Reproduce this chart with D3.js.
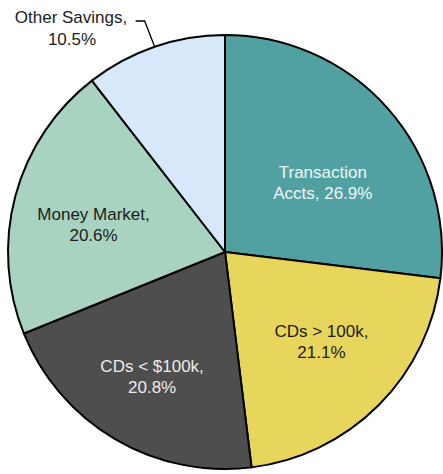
<!DOCTYPE html>
<html>
<head>
<meta charset="utf-8">
<script src="https://cdn.jsdelivr.net/npm/d3@7"></script>
<style>
  body { margin: 0; background: #fff; }
  svg text { font-family: "Liberation Sans", Arial, sans-serif; font-size: 17px; }
</style>
</head>
<body>
<div id="chart"></div>
<script>
// data
const categories = ["Transaction Accts", "CDs > 100k", "CDs < $100k", "Money Market", "Other Savings"];
const values = [26.9, 21.1, 20.8, 20.6, 10.5];
const labelLines = [
    ["Transaction", "Accts, 26.9%"],
    ["CDs > 100k,", "21.1%"],
    ["CDs < $100k,", "20.8%"],
    ["Money Market,", "20.6%"],
    ["Other Savings,", "10.5%"]
];

const colors = ["#52a1a2", "#e8d65c", "#4e4e4e", "#a7d3c0", "#d7e8fa"];
const textColors = ["#eef7f7", "#1c1c1c", "#ececec", "#1c1c1c", "#1c1c1c"];

const width = 443, height = 474;
const cx = 225, cy = 252, radius = 217;

const svg = d3.select("#chart")
    .append("svg")
    .attr("width", width)
    .attr("height", height);

const g = svg.append("g")
    .attr("transform", `translate(${cx},${cy})`);

const data = categories.map((c, i) => ({name: c, value: values[i], lines: labelLines[i], i: i}));

const pie = d3.pie()
    .value(d => d.value)
    .sort(null);

const arc = d3.arc().innerRadius(0).outerRadius(radius);
const labelArc = d3.arc().innerRadius(132).outerRadius(132);

const arcs = pie(data);

g.selectAll(".slice")
    .data(arcs)
    .enter()
    .append("path")
    .attr("class", "slice")
    .attr("d", arc)
    .attr("fill", d => colors[d.data.i])
    .attr("stroke", "#000")
    .attr("stroke-width", 2)
    .attr("stroke-linejoin", "round");

// small nudges for labels inside the slices
const nudge = [[-1, 18], [3, -4], [-6, 10], [-4, 6]];

arcs.slice(0, 4).forEach((d, k) => {
    const [x, y] = labelArc.centroid(d);
    const t = g.append("text")
        .attr("text-anchor", "middle")
        .attr("fill", textColors[d.data.i])
        .attr("transform", `translate(${x + nudge[k][0]},${y + nudge[k][1] - 4})`);
    d.data.lines.forEach((line, j) => {
        t.append("tspan").attr("x", 0).attr("y", j * 21).text(line);
    });
});

// outside label with a leader for the small slice
const other = arcs[4];
const mid = (other.startAngle + other.endAngle) / 2;
const p0 = [Math.sin(mid) * radius, -Math.cos(mid) * radius];
const elbow = [p0[0] - 10, -231];
const end = [elbow[0] - 9, elbow[1]];

g.append("polyline")
    .attr("points", [p0, elbow, end].map(p => p.join(",")).join(" "))
    .attr("fill", "none")
    .attr("stroke", "#000")
    .attr("stroke-width", 1.3);

const ot = g.append("text")
    .attr("text-anchor", "middle")
    .attr("fill", textColors[4])
    .attr("transform", `translate(${-154},${-229})`);
other.data.lines.forEach((line, j) => {
    ot.append("tspan").attr("x", j === 0 ? 0 : 1).attr("y", j * 22).text(line);
});
</script>
</body>
</html>
